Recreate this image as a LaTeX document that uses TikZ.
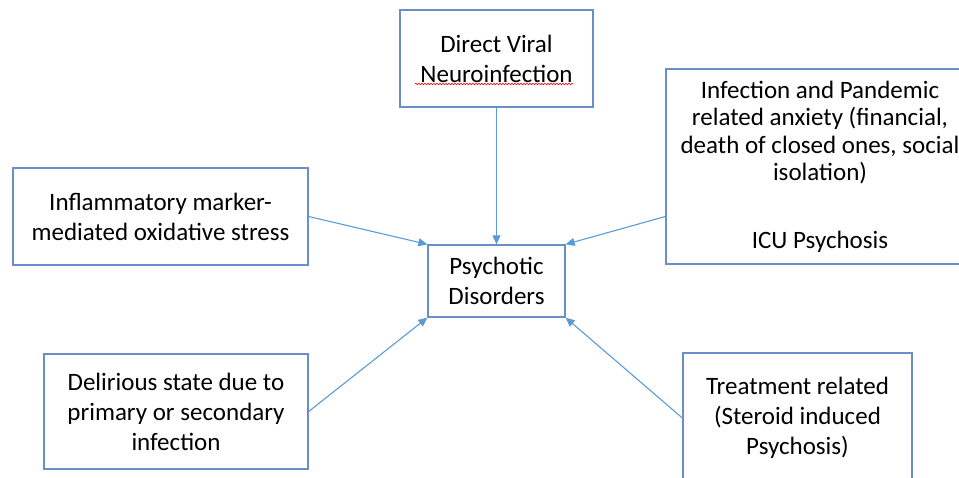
\documentclass[tikz,border=0pt]{standalone}
\usepackage{fontspec}
\setmainfont{Carlito}
\usetikzlibrary{arrows.meta,decorations.pathmorphing}
\definecolor{boxblue}{RGB}{105,142,200}
\definecolor{arrowblue}{RGB}{91,155,213}
\tikzset{
  box/.style={draw=boxblue, line width=1.3pt, align=center, inner sep=0pt,
    font=\fontsize{25}{30}\selectfont},
  arrow/.style={draw=arrowblue, line width=1.1pt, -{Triangle[length=9pt,width=8pt]}}
}
\begin{document}
\begin{tikzpicture}[x=1pt, y=-1pt]
\useasboundingbox (0,0) rectangle (959,477);
\clip (0,0) rectangle (959,477);

\node[box, minimum width=137pt, minimum height=72pt] (psy) at (496.5,281) {Psychotic\\Disorders};
\node[box, minimum width=193pt, minimum height=97pt] (dvn) at (496.5,58.5) {Direct Viral\\Neuroinfection};
\node[box, minimum width=295pt, minimum height=97pt] (infl) at (160.5,216.5) {Inflammatory marker-\\mediated oxidative stress};
\node[box, minimum width=308pt, minimum height=195pt, font=\fontsize{25}{27.5}\selectfont] (anx) at (820,166.5)
  {Infection and Pandemic\\related anxiety (financial,\\death of closed ones, social\\isolation)\\[40pt]ICU Psychosis};
\node[box, minimum width=264pt, minimum height=115pt] (del) at (176,411.5) {Delirious state due to\\primary or secondary\\infection};
\node[box, minimum width=229pt, minimum height=130pt] (trt) at (797.5,418) {Treatment related\\(Steroid induced\\Psychosis)};

% spell check mark
\draw[red, line width=0.6pt, decorate, decoration={snake, amplitude=0.8pt, segment length=3pt}] (415,84) -- (573,84);

\draw[arrow] (dvn) -- (psy);
\draw[arrow] (infl.east) -- (psy.north west);
\draw[arrow] (anx.west |- infl.east) -- (psy.north east);
\draw[arrow] (del.east) -- (psy.south west);
\draw[arrow] (trt.west) -- (psy.south east);

\end{tikzpicture}
\end{document}
